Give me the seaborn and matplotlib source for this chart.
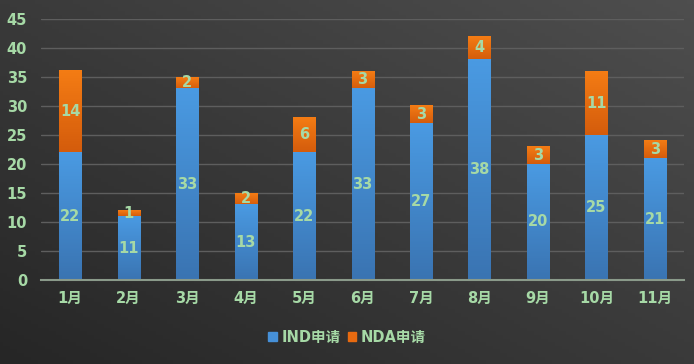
import numpy as np
import pandas as pd
import matplotlib
matplotlib.use("Agg")
import matplotlib.pyplot as plt
import seaborn as sns
from matplotlib.colors import LinearSegmentedColormap
from matplotlib.patches import Patch

months = ["1月", "2月", "3月", "4月", "5月", "6月", "7月", "8月", "9月", "10月", "11月"]
ind = [22, 11, 33, 13, 22, 33, 27, 38, 20, 25, 21]
nda = [14, 1, 2, 2, 6, 3, 3, 4, 3, 11, 3]
series_names = ["IND申请", "NDA申请"]

sns.set_style("white")
FAM = ['DejaVu Sans', 'Noto Sans CJK SC']
plt.rcParams['font.family'] = FAM
plt.rcParams['font.weight'] = 'bold'

txt = "#a6d9a6"
fig = plt.figure(figsize=(6.94, 3.64), dpi=100)

# background gradient
bg = fig.add_axes([0, 0, 1, 1], zorder=-10)
xx, yy = np.meshgrid(np.linspace(0, 1, 200), np.linspace(0, 1, 100))
g = 0.5 * xx + 0.5 * (1 - yy)
bgcmap = LinearSegmentedColormap.from_list("bg", ["#262626", "#4e4e4e"])
bg.imshow(g, cmap=bgcmap, aspect="auto", extent=[0, 1, 0, 1], origin="upper")
bg.axis("off")

ax = fig.add_axes([0.059, 0.231, 0.927, 0.717])
ax.set_facecolor("none")

df = pd.DataFrame({"month": months, "IND": ind, "NDA": nda})
df["total"] = df["IND"] + df["NDA"]
sns.barplot(data=df, x="month", y="total", color="#e86a10", width=0.38, ax=ax, zorder=3, saturation=1)
sns.barplot(data=df, x="month", y="IND", color="#4690d8", width=0.38, ax=ax, zorder=4, saturation=1)

ax.set_ylim(0, 45)
ax.set_xlim(-0.5, len(months) - 0.5)

# gradient overlay on bars
blue_cmap = LinearSegmentedColormap.from_list("b", ["#3a74b2", "#4a9ae2"])
orange_cmap = LinearSegmentedColormap.from_list("o", ["#d45c0c", "#f47c14"])
grad = np.linspace(0, 1, 100).reshape(-1, 1)
n = len(months)
patches = list(ax.patches)
for i, p in enumerate(patches):
    x0, y0, w, h = p.get_x(), p.get_y(), p.get_width(), p.get_height()
    cm = orange_cmap if i < n else blue_cmap
    if i < n:
        y0 = ind[i]
        h = nda[i]
    ax.imshow(grad, cmap=cm, aspect="auto", extent=[x0, x0 + w, y0, y0 + h],
              origin="lower", zorder=5 if i >= n else 4.5, interpolation="nearest")
    p.set_visible(False)

for i in range(n):
    ax.text(i, ind[i] / 2, str(ind[i]), ha="center", va="center", color=txt,
            fontsize=10.5, fontweight="bold", zorder=10)
    ax.text(i, ind[i] + nda[i] / 2, str(nda[i]), ha="center", va="center", color=txt,
            fontsize=10.5, fontweight="bold", zorder=10)

ax.set_yticks(range(0, 46, 5))
ax.grid(axis="y", color="#5e5e5e", linewidth=1, zorder=0)
ax.set_axisbelow(True)
for s in ["top", "right", "left"]:
    ax.spines[s].set_visible(False)
ax.spines["bottom"].set_color("#8a9a8a")
ax.spines["bottom"].set_linewidth(1.5)
ax.spines["bottom"].set_zorder(6)
ax.tick_params(axis="both", length=0, colors=txt, labelsize=10.5)
ax.tick_params(axis="x", pad=8)
ax.tick_params(axis="y", pad=10)
for lab in ax.get_xticklabels() + ax.get_yticklabels():
    lab.set_fontweight("bold")
ax.set_xlabel("")
ax.set_ylabel("")

handles = [Patch(color="#4690d8", label=series_names[0]), Patch(color="#e86a10", label=series_names[1])]
leg = fig.legend(handles=handles, loc="center", bbox_to_anchor=(0.5, 0.073), ncol=2, frameon=False,
                 handlelength=0.6, handleheight=0.6, handletextpad=0.3, columnspacing=0.5,
                 prop={"family": FAM, "weight": "bold", "size": 10.5})
for t in leg.get_texts():
    t.set_color(txt)

fig.savefig("out.png", dpi=100)
